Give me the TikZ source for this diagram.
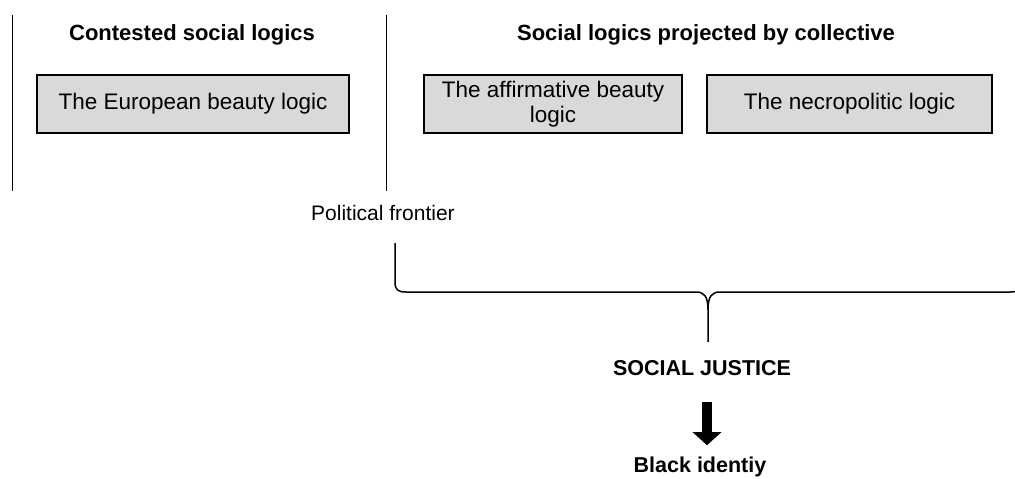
\documentclass[tikz,border=0pt]{standalone}
\usepackage{fontspec}
\setmainfont{Liberation Sans}
\usetikzlibrary{arrows.meta}
\definecolor{boxgray}{HTML}{D9D9D9}
\begin{document}
\begin{tikzpicture}[x=1pt,y=-1pt,
  logicbox/.style={draw=black, line width=1.8pt, fill=boxgray, minimum height=58pt,
    inner sep=2pt, align=center, font=\fontsize{22.5}{25}\selectfont},
  title/.style={anchor=base, inner sep=0pt, font=\bfseries\fontsize{22}{26}\selectfont},
  plain/.style={anchor=base, inner sep=0pt, font=\fontsize{21}{25}\selectfont},
  divider/.style={line width=1.7pt},
  bracepath/.style={line width=1.5pt, line join=round},
  bigarrow/.style={line width=10pt, -{Triangle[width=28pt,length=13pt]}}
]
\useasboundingbox (0,0) rectangle (1015,479);

% dividers
\coordinate (d1t) at (12.5,15);
\coordinate (d1b) at (12.5,191);
\coordinate (d2t) at (386.5,15);
\coordinate (d2b) at (386.5,191);
\draw[divider] (d1t) -- (d1b);
\draw[divider] (d2t) -- (d2b);

% titles
\node[title] (t1) at (192,40) {Contested social logics};
\node[title] (t2) at (706,40) {Social logics projected by collective};

% boxes
\node[logicbox, minimum width=312pt] (eu) at (193,104) {The European beauty logic};
\node[logicbox, minimum width=258pt] (af) at (553,104) {The affirmative beauty\\logic};
\node[logicbox, minimum width=285pt] (ne) at (849.5,104) {The necropolitic logic};

% political frontier
\node[plain] (pf) at (383,220) {Political frontier};

% brace
\draw[bracepath] (395,243) -- (395,282)
  .. controls (395,290) and (398,292) .. (406,292)
  -- (696,292)
  .. controls (704,292) and (708,296) .. (708,310)
  -- (708,342);
\draw[bracepath] (708,310)
  .. controls (708,296) and (712,292) .. (720,292)
  -- (1010,292)
  .. controls (1018,292) and (1021,290) .. (1021,282)
  -- (1021,243);

% social justice and identity
\node[title, font=\bfseries\fontsize{21.5}{26}\selectfont] (sj) at (702,375) {SOCIAL JUSTICE};
\node[title, font=\bfseries\fontsize{21.5}{26}\selectfont] (bi) at (700,472) {Black identiy};

\draw[bigarrow] ([xshift=5pt,yshift=-27pt]sj.south) -- ([xshift=7pt,yshift=11pt]bi.north);
\end{tikzpicture}
\end{document}
